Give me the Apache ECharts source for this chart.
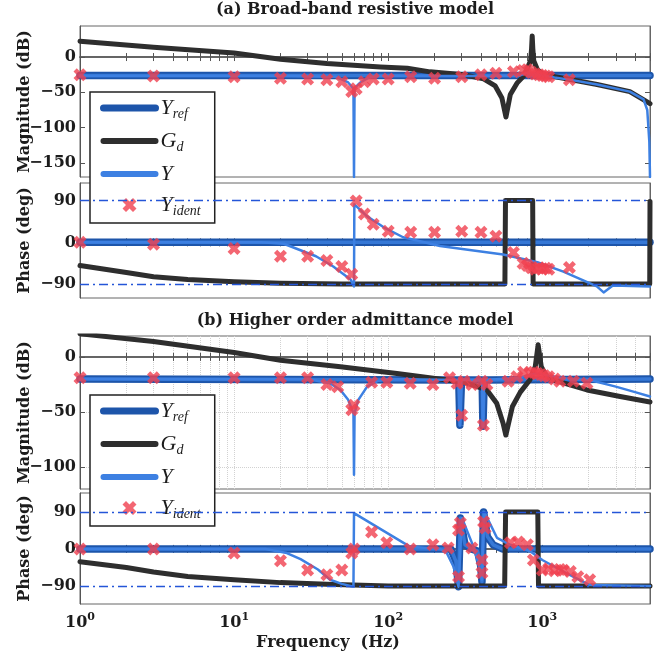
<!DOCTYPE html>
<html>
<head>
<meta charset="utf-8">
<script src="https://cdn.jsdelivr.net/npm/echarts@6/dist/echarts.min.js"></script>
<style>
  html, body { margin: 0; padding: 0; background: #fff; }
  #chart { width: 667px; height: 658px; }
</style>
</head>
<body>
<div id="chart"></div>
<script>
// ---------- data: [frequency (Hz), value] ----------
// (a) broad-band resistive model, magnitude in dB
const yRefMagA = [[1, -26], [5000, -26]];
const gdMagA = [[1, 22.5], [3, 14], [10, 5.6], [20, -3], [40, -9], [89, -14], [133, -16], [187, -21], [310, -25],
  [416, -31], [495, -41], [547, -58], [581, -85], [620, -53], [685, -37], [757, -27], [800, -16], [840, -5],
  [852, 12], [860, 30], [868, 12], [880, -5], [930, -18], [1020, -25], [1376, -30], [2270, -39], [3700, -49],
  [4500, -60], [5000, -66]];
const yMagA = [[1, -27], [20, -27], [46, -28], [55, -36], [59.5, -45], [60, -170], [60.5, -44], [66, -36], [76, -28],
  [100, -27], [700, -27], [800, -22], [900, -24], [1000, -26], [1200, -29], [1500, -32], [2270, -39], [3700, -49],
  [4540, -60], [4800, -75], [4950, -120], [5000, -170]];
const identFreqA = [1, 3, 10, 20, 30, 40, 50, 58, 62, 70, 80, 100, 140, 200, 300, 400, 500, 650, 750, 800, 850,
  900, 950, 1000, 1050, 1100, 1500];
const identMagA = [-25, -27, -28, -30, -31, -32, -35, -49, -45, -35, -31, -31, -28, -30, -28, -25, -23, -21, -19,
  -18, -22, -24, -25, -26, -27, -28, -32];

// (a) phase in degrees
const yRefPhaseA = [[1, 0], [5000, 0]];
const gdPhaseA = [[1, -50], [2, -65], [3, -74], [5, -80], [10, -85], [20, -88], [50, -90], [572, -90], [577, 90],
  [866, 90], [872, -90], [4980, -90], [5000, 88]];
const yPhaseA = [[1, 0], [15, 0], [21, -3], [34, -30], [44, -52], [57, -80], [60, -95], [60.3, 82], [73, 56],
  [93, 33], [125, 11], [217, -8], [557, -26], [930, -43], [1370, -63], [2260, -95], [2500, -108], [2870, -93],
  [5000, -95]];
const identPhaseA = [0, -4, -13, -30, -30, -39, -52, -69, 89, 61, 39, 24, 22, 22, 24, 22, 13, -22, -45, -50, -55,
  -58, -55, -57, -56, -58, -54];

// (b) higher order admittance model, magnitude in dB
const yRefMagB = [[1, -20], [287, -21], [292, -62], [294, -62], [299, -21], [407, -21], [412, -63], [414, -63],
  [420, -21], [5000, -20]];
const gdMagB = [[1, 21], [3, 14], [10, 4], [20, -3], [49, -9], [114, -15], [310, -23], [437, -30], [506, -42],
  [556, -60], [580, -71], [640, -45], [720, -32], [830, -21], [900, -9], [940, 11], [985, -9], [1070, -18],
  [1190, -21], [1950, -30], [3200, -36], [5000, -41]];
const yMagB = [[1, -20], [30, -20], [42, -24], [49, -30], [55, -39], [59.5, -51], [60, -107], [60.5, -51], [64, -39],
  [73, -27], [85, -22], [100, -20], [287, -21], [292, -62], [294, -62], [299, -21], [407, -21], [412, -63],
  [414, -63], [420, -21], [700, -19], [850, -16], [950, -15], [1100, -17], [1500, -20], [2030, -21], [3000, -27],
  [4000, -32], [5000, -36]];
const identFreqMagB = [1, 3, 10, 20, 30, 40, 47, 58, 60, 78, 98, 139, 195, 250, 280, 300, 310, 350, 405, 415, 437,
  600, 685, 755, 830, 880, 930, 980, 1030, 1100, 1200, 1300, 1590, 1950];
const identMagB = [-19, -19, -19, -19, -19, -25, -27, -48, -44, -23, -23, -24, -25, -19, -24, -53, -22, -25, -22,
  -62, -25, -22, -18, -14, -15, -14, -15, -16, -17, -18, -20, -22, -22, -24];

// (b) phase in degrees
const yRefPhaseB = [[1, 0], [255, 0], [275, -30], [286, -92], [294, 75], [315, 10], [345, 0], [380, -5], [398, -40],
  [406, -80], [416, 90], [440, 30], [480, 10], [550, 0], [5000, 0]];
const gdPhaseB = [[1, -31], [2, -45], [3, -56], [5, -67], [10, -75], [20, -82], [40, -86], [100, -90], [570, -90],
  [578, 90], [935, 90], [945, -90], [5000, -90]];
const yPhaseB = [[1, 0], [16, 0], [22, -10], [27, -25], [35, -50], [42, -75], [50, -85], [59.5, -92], [60, 87],
  [139, 5], [217, 0], [240, -10], [266, -44], [286, -92], [301, 75], [358, 5], [385, -35], [406, -75], [420, 90],
  [508, 27], [620, 10], [830, -5], [1000, -27], [1370, -55], [2030, -88], [5000, -90]];
const identFreqPhB = [1, 3, 10, 20, 30, 40, 50, 58, 60, 78, 98, 139, 195, 245, 286, 286, 294, 349, 406, 406, 416,
  426, 620, 698, 800, 875, 1000, 1100, 1200, 1300, 1370, 1520, 1700, 2030];
const identPhaseB = [0, 0, -10, -29, -51, -63, -51, -10, 0, 41, 15, 0, 10, 2, 46, -68, 63, 2, -27, -58, 66, 51, 15,
  17, 10, -27, -51, -48, -53, -50, -52, -55, -68, -75];

// axis ticks
const xMajorTicks = [1, 10, 100, 1000];
const magTicksA = [-150, -100, -50, 0];
const magTicksB = [-100, -50, 0];
const phaseTicks = [-90, 0, 90];
const phaseGuides = [90, -90];

// ---------- styling ----------
const SERIF = '"DejaVu Serif", serif';
const MATH = '"Liberation Serif", serif';
const INK = '#1c1c1c';
const C_REF_EDGE = '#1d55aa';
const C_REF_CORE = '#3678d6';
const C_GD = '#2e2e2e';
const C_Y = '#3d80e2';
const C_ID = '#f0404f';
const X_MARK = 'path://M0,3 L3,0 L6,3 L9,0 L12,3 L9,6 L12,9 L9,12 L6,9 L3,12 L0,9 L3,6 Z';
const HIDDEN = { color: 'rgba(0,0,0,0)', borderColor: 'rgba(0,0,0,0)', borderWidth: 0, opacity: 0 };

const xMinorTicks = [];
for (let d = 1; d <= 1000; d *= 10) {
  for (let k = 1; k <= 9; k++) { if (d * k <= 5000) xMinorTicks.push(d * k); }
}

const panels = [
  { top: 26, height: 151, range: [-170, 44], ticks: magTicksA, name: 'Magnitude (dB)' },
  { top: 183, height: 115, range: [-120, 128], ticks: phaseTicks, name: 'Phase (deg)' },
  { top: 336, height: 153, range: [-120, 19], ticks: magTicksB, name: 'Magnitude (dB)' },
  { top: 493, height: 111, range: [-134, 136], ticks: phaseTicks, name: 'Phase (deg)' }
];

const minusFmt = v => (v < 0 ? '\u2212' + (-v) : String(v));
const tickFont = { fontFamily: SERIF, fontWeight: 'bold', fontSize: 16, color: INK };

const grid = panels.map(p => ({
  left: 80, right: 17, top: p.top, height: p.height,
  show: true, borderColor: '#666', borderWidth: 1, backgroundColor: 'transparent'
}));

const xAxis = [];
const yAxis = [];
panels.forEach((p, i) => {
  xAxis.push({
    type: 'log', logBase: 10, gridIndex: i, min: 1, max: 5000, position: 'bottom',
    axisLine: { show: true, lineStyle: { color: '#333', width: 1.5 } },
    axisTick: { show: true, inside: true, length: 4, customValues: xMinorTicks, lineStyle: { color: '#555' } },
    axisLabel: {
      show: i === 3, customValues: xMajorTicks, margin: 8,
      formatter: v => '{b|10}{s|' + Math.round(Math.log10(v)) + '}',
      rich: {
        b: { fontFamily: SERIF, fontWeight: 'bold', fontSize: 16, color: INK, lineHeight: 22 },
        s: { fontFamily: SERIF, fontWeight: 'bold', fontSize: 11, color: INK, verticalAlign: 'top', lineHeight: 22, padding: [0, 0, 10, 0] }
      }
    },
    splitLine: { show: i === 2, lineStyle: { color: '#d2d2d2', type: 'dotted', width: 1 } }
  });
  yAxis.push({
    type: 'value', gridIndex: i, min: p.range[0], max: p.range[1], position: 'left',
    axisLine: { show: true, lineStyle: { color: '#555', width: 1 } },
    axisTick: { show: true, inside: true, length: 5, customValues: p.ticks, lineStyle: { color: '#555' } },
    axisLabel: Object.assign({ customValues: p.ticks, formatter: minusFmt, margin: 4 }, tickFont),
    splitLine: { show: i === 2, lineStyle: { color: '#d2d2d2', type: 'dotted', width: 1 } },
    name: p.name, nameLocation: 'middle', nameGap: 47, nameRotate: 90, nameMoveOverlap: false,
    nameTextStyle: { fontFamily: SERIF, fontWeight: 'bold', fontSize: 16, color: INK }
  });
});
// mirrored tick marks on the top and right edges
panels.forEach((p, i) => {
  xAxis.push({
    type: 'log', logBase: 10, gridIndex: i, min: 1, max: 5000, position: 'top',
    axisLine: { show: true, lineStyle: { color: '#666', width: 1 } },
    axisTick: { show: true, inside: true, length: 4, customValues: xMinorTicks, lineStyle: { color: '#555' } },
    axisLabel: { show: false }, splitLine: { show: false }
  });
  yAxis.push({
    type: 'value', gridIndex: i, min: p.range[0], max: p.range[1], position: 'right',
    axisLine: { show: true, lineStyle: { color: '#666', width: 1 } },
    axisTick: { show: true, inside: true, length: 5, customValues: p.ticks, lineStyle: { color: '#555' } },
    axisLabel: { show: false }, splitLine: { show: false }
  });
});

function line(name, data, idx, color, width, z, extra) {
  return Object.assign({
    type: 'line', name: name, data: data, xAxisIndex: idx, yAxisIndex: idx,
    symbol: 'none', showSymbol: false, silent: true, animation: false, z: z,
    lineStyle: { color: color, width: width, cap: 'round', join: 'round' },
    itemStyle: { color: color }
  }, extra || {});
}
function marks(freqs, vals, idx) {
  return {
    type: 'scatter', name: 'Y_ident', xAxisIndex: idx, yAxisIndex: idx,
    data: freqs.map((f, k) => [f, vals[k]]),
    symbol: X_MARK, symbolSize: 13, silent: true, animation: false, z: 6,
    itemStyle: { color: C_ID }
  };
}
const guide = {
  silent: true, symbol: 'none', label: { show: false }, animation: false,
  lineStyle: { type: [9, 4, 2, 4], color: '#2456d8', width: 1.3 },
  data: phaseGuides.map(v => ({ yAxis: v }))
};

const panelData = [
  { ref: yRefMagA, gd: gdMagA, y: yMagA, f: identFreqA, id: identMagA },
  { ref: yRefPhaseA, gd: gdPhaseA, y: yPhaseA, f: identFreqA, id: identPhaseA },
  { ref: yRefMagB, gd: gdMagB, y: yMagB, f: identFreqMagB, id: identMagB },
  { ref: yRefPhaseB, gd: gdPhaseB, y: yPhaseB, f: identFreqPhB, id: identPhaseB }
];

const series = [];
panelData.forEach((d, i) => {
  const isPhase = i === 1 || i === 3;
  series.push(line('Y_ref', d.ref, i, C_REF_EDGE, 7.5, 2, isPhase ? { markLine: guide } : {}));
  series.push(line('Y_ref core', d.ref, i, C_REF_CORE, 3.5, 2));
  series.push(line('G_d', d.gd, i, C_GD, 5, 3));
  series.push(line('Y', d.y, i, C_Y, 2.5, 4));
  series.push(marks(d.f, d.id, i));
});

const legendNames = {
  'Y_ref': '{m|Y}{s|ref}',
  'G_d': '{m|G}{s|d}',
  'Y': '{m|Y}',
  'Y_ident': '{m|Y}{s|ident}'
};
function makeLegend(top) {
  return {
    orient: 'vertical', left: 90, top: top,
    padding: [5, 14, 5, 10], itemGap: 9, itemWidth: 52, itemHeight: 14,
    backgroundColor: '#fff', borderColor: '#222', borderWidth: 1.5,
    selectedMode: false,
    data: [
      { name: 'Y_ref', itemStyle: HIDDEN, lineStyle: { width: 7, color: C_REF_EDGE } },
      { name: 'G_d', itemStyle: HIDDEN, lineStyle: { width: 6, color: C_GD } },
      { name: 'Y', itemStyle: HIDDEN, lineStyle: { width: 6, color: C_Y } },
      { name: 'Y_ident' }
    ],
    formatter: n => legendNames[n],
    textStyle: {
      rich: {
        m: { fontFamily: MATH, fontStyle: 'italic', fontSize: 22, color: INK, lineHeight: 26 },
        s: { fontFamily: MATH, fontStyle: 'italic', fontSize: 14, color: INK, lineHeight: 26, verticalAlign: 'bottom' }
      }
    }
  };
}

const titleFont = 'bold 16px "DejaVu Serif", serif';
const option = {
  animation: false,
  backgroundColor: '#fff',
  grid: grid,
  xAxis: xAxis,
  yAxis: yAxis,
  series: series,
  legend: [makeLegend(92), makeLegend(395)],
  graphic: [
    { type: 'text', x: 355, y: 10, style: { text: '(a) Broad-band resistive model', font: titleFont, fill: INK, align: 'center', verticalAlign: 'middle' } },
    { type: 'text', x: 355, y: 321, style: { text: '(b) Higher order admittance model', font: titleFont, fill: INK, align: 'center', verticalAlign: 'middle' } },
    { type: 'text', x: 328, y: 643, style: { text: 'Frequency  (Hz)', font: titleFont, fill: INK, align: 'center', verticalAlign: 'middle' } }
  ]
};

const chart = echarts.init(document.getElementById('chart'), null, { renderer: 'canvas' });
chart.setOption(option);
</script>
</body>
</html>
